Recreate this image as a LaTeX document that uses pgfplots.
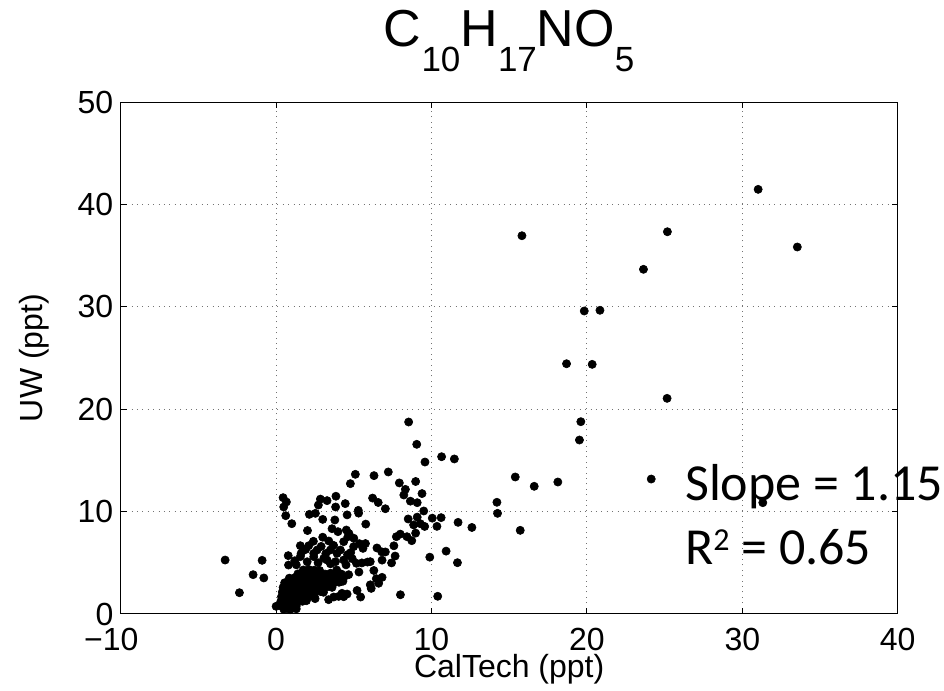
\documentclass[border=0pt]{standalone}
\usepackage{fontspec}
\setmainfont{Liberation Sans}
\newfontfamily\calibri{Carlito}
\usepackage{pgfplots}
\pgfplotsset{compat=1.18}
\begin{document}
\begin{tikzpicture}
\useasboundingbox (0,0) rectangle (472pt,345.5pt);
\begin{axis}[
  at={(60.35pt,38.5pt)}, anchor=south west,
  width=388.5pt, height=256pt, scale only axis,
  xmin=-10, xmax=40, ymin=0, ymax=50,
  xtick={-10,0,10,20,30,40}, ytick={0,10,20,30,40,50},
  xticklabels={\llap{−}10,0,10,20,30,40},
  grid=major,
  major grid style={draw=black!55, line width=0.5pt, dash pattern=on 0.5pt off 2.2pt},
  axis line style={line width=0.5pt},
  tick style={black, line width=0.5pt},
  major tick length=3pt,
  tick align=inside,
  /pgf/number format/assume math mode=true,
  xticklabel style={font=\fontsize{16}{19}\selectfont, anchor=north, inner sep=0pt, yshift=-7pt},
  yticklabel style={font=\fontsize{16}{19}\selectfont, anchor=east, inner sep=0pt, xshift=-3.5pt},
  clip mode=individual,
]
\addplot[only marks, mark=*, mark size=2.05pt, mark options={fill=black, draw=black, line width=0.3pt}] coordinates {
(15.82,36.94) (25.18,37.33) (33.54,35.84) (31.02,41.47) (23.64,33.66)
(19.83,29.59) (20.84,29.66) (18.69,24.44) (20.34,24.38) (25.16,21.06)
(19.61,18.78) (19.52,16.99) (15.39,13.38) (16.61,12.47) (18.13,12.89)
(24.14,13.18) (14.21,10.91) (14.25,9.83) (15.71,8.17) (31.32,10.87)
(8.53,18.75) (9.05,16.57) (9.58,14.84) (10.65,15.36) (11.47,15.14)
(5.10,13.64) (4.78,12.73) (6.30,13.51) (7.22,13.87) (7.93,12.80)
(8.32,12.17) (8.22,11.62) (8.98,12.94) (9.39,11.76) (8.64,11.02)
(9.08,10.87) (9.50,10.06) (0.45,11.36) (0.66,10.94) (0.49,10.45)
(0.62,9.60) (1.01,8.82) (2.85,11.22) (3.28,11.07) (3.85,11.50)
(2.72,10.64) (3.83,10.45) (4.45,10.78) (2.14,9.73) (2.53,9.83)
(3.00,9.24) (3.78,9.18) (4.57,9.68) (5.29,10.12) (5.31,9.85)
(6.21,11.32) (6.57,10.89) (7.03,10.28) (5.77,8.78) (2.02,8.15)
(3.60,8.33) (3.98,8.04) (4.52,8.20) (4.69,7.86) (4.62,7.55)
(3.39,7.13) (8.50,9.28) (9.08,9.46) (8.85,8.70) (9.28,8.82)
(9.56,8.55) (8.98,7.90) (10.05,9.36) (10.62,9.41) (10.35,8.56)
(11.71,8.95) (12.60,8.45) (7.99,7.80) (7.74,7.55) (8.42,7.55)
(8.73,7.16) (7.58,6.66) (6.49,6.45) (6.80,6.07) (7.03,6.06)
(7.66,5.66) (7.43,4.99) (6.82,5.26) (6.06,5.11) (9.89,5.55)
(10.94,6.14) (11.67,5.01) (6.29,4.25) (6.82,3.58) (6.45,3.45)
(6.06,2.85) (6.60,3.00) (6.12,2.50) (8.00,1.88) (10.40,1.73)
(-3.28,5.27) (-0.90,5.24) (-1.48,3.84) (-0.79,3.52) (-2.36,2.08)
(0.00,0.75) (5.44,1.66) (5.21,2.30) (4.67,3.84) (5.33,4.10)
(5.17,4.95) (5.52,4.99) (5.88,5.07) (5.36,6.87) (5.75,6.88)
(5.59,6.41) (4.99,6.58) (4.35,7.06) (4.14,6.25) (4.14,3.16)
(3.71,1.66) (4.24,2.02) (4.57,1.95) (3.38,1.40) (2.51,1.50)
(0.78,5.70) (0.80,4.78) (1.56,6.67) (2.10,6.67) (1.61,5.92)
(2.42,5.92) (2.64,6.25) (3.07,5.44) (3.49,6.25) (3.92,5.92)
(4.35,5.27) (3.82,5.11) (3.28,5.27) (1.56,5.60) (2.42,5.60)
(4.03,1.72) (4.35,1.69)
(1.90,6.30) (2.90,6.60) (3.20,5.90) (3.70,6.70) (4.60,5.80) (4.90,5.40)
(2.70,5.00) (2.00,5.10) (1.20,5.20) (1.30,4.80) (4.50,4.80) (3.50,4.90)
(2.40,7.10) (3.00,7.50) (4.80,6.00) (5.00,7.40)
(0.25,0.82) (0.60,0.78) (0.95,0.85) (1.30,0.80)
(0.50,0.45) (0.90,0.42) (1.30,0.50)
(0.30,1.22) (0.65,1.28) (1.00,1.20) (1.35,1.30) (1.70,1.24) (1.95,1.30)
(0.35,1.70) (0.70,1.75) (1.05,1.66) (1.40,1.72) (1.75,1.68) (2.10,1.74) (2.45,1.70)
(0.40,2.15) (0.75,2.20) (1.10,2.12) (1.45,2.18) (1.80,2.10) (2.15,2.20) (2.50,2.14) (2.85,2.20) (3.05,2.12)
(0.45,2.60) (0.80,2.64) (1.15,2.56) (1.50,2.62) (1.85,2.58) (2.20,2.65) (2.55,2.60) (2.90,2.55) (3.25,2.63) (3.60,2.60)
(0.55,3.05) (0.90,3.10) (1.25,3.02) (1.60,3.08) (1.95,3.00) (2.30,3.10) (2.65,3.05) (3.00,3.00) (3.35,3.08) (3.70,3.02) (4.05,3.10) (4.30,3.20)
(0.85,3.50) (1.20,3.55) (1.55,3.46) (1.90,3.52) (2.25,3.48) (2.60,3.55) (2.95,3.50) (3.30,3.45) (3.65,3.52) (4.00,3.50) (4.35,3.55)
(1.40,3.92) (1.75,3.98) (2.10,3.90) (2.45,4.00) (2.80,3.95) (3.15,3.90) (3.50,3.98) (3.85,3.95) (4.20,3.90)
(1.75,4.30) (2.10,4.35) (2.45,4.28) (2.80,4.25) (3.90,4.30)
};
\node[anchor=base, inner sep=0pt, font=\fontsize{26}{30}\selectfont] at ([yshift=27.65pt]rel axis cs:0.5,1)
  {C\raisebox{-12.5pt}{\fontsize{17.5}{20}\selectfont 10}H\raisebox{-12.5pt}{\fontsize{17.5}{20}\selectfont 17}NO\raisebox{-12.5pt}{\fontsize{17.5}{20}\selectfont 5}};
\node[anchor=base, inner sep=0pt, font=\fontsize{16}{19}\selectfont] at ([yshift=-31.6pt]rel axis cs:0.5,0) {CalTech (ppt)};
\node[rotate=90, anchor=base, inner sep=0pt, font=\fontsize{16}{19}\selectfont] at ([xshift=-38.9pt]rel axis cs:0,0.5) {UW (ppt)};
\node[anchor=base west, inner sep=0pt, font=\calibri\fontsize{26}{30}\selectfont] at (axis cs:26.3,11.06) {Slope = 1.15};
\node[anchor=base west, inner sep=0pt, font=\calibri\fontsize{26}{30}\selectfont] at (axis cs:26.3,4.79) {R\raisebox{7pt}{\fontsize{16}{18}\selectfont 2} = 0.65};
\end{axis}
\end{tikzpicture}
\end{document}
